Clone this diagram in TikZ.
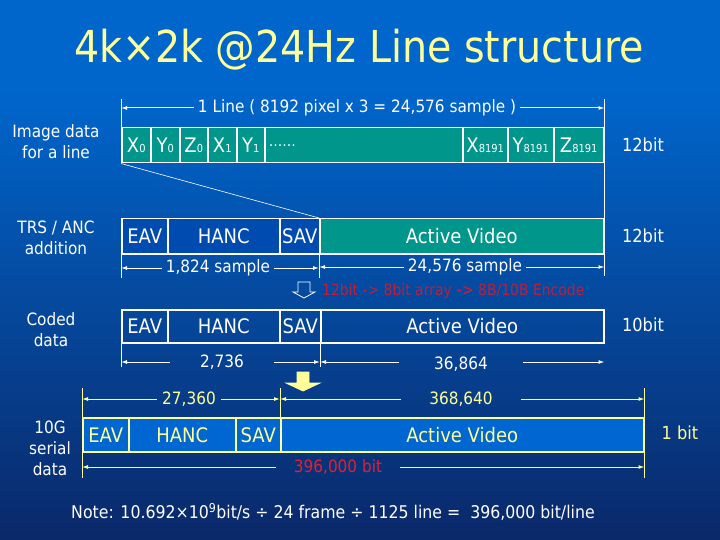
\documentclass[tikz,border=0pt]{standalone}
\usepackage{fontspec}
\setmainfont{DejaVu Sans}[FakeStretch=0.9]
\usetikzlibrary{arrows.meta}

\definecolor{bgtop}{RGB}{0,102,204}
\definecolor{bgmid}{RGB}{5,72,168}
\definecolor{bgbot}{RGB}{10,40,105}
\definecolor{tealfill}{RGB}{0,150,140}
\definecolor{trsblue}{RGB}{0,75,175}
\definecolor{serblue}{RGB}{0,102,210}
\definecolor{lyellow}{RGB}{255,255,153}
\definecolor{enctxt}{RGB}{190,30,60}
\definecolor{bitred}{RGB}{230,30,50}

\newcommand{\fsz}[2]{\fontsize{#1}{#2}\selectfont}
\newcommand{\subd}[1]{{\fsz{11}{11}#1}}

\begin{document}
\begin{tikzpicture}[x=1pt,y=-1pt,
	cell/.style={draw=white, line width=1.5pt, anchor=north west, inner sep=0pt,
		minimum height=35pt, text=white, font=\fsz{20}{20}},
	sercell/.style={cell, draw=lyellow, text=lyellow, fill=serblue, minimum height=34pt},
	lbl/.style={text=white, font=\fsz{17}{21}, align=center},
	dimtxt/.style={text=white, font=\fsz{17}{17}, inner ysep=2pt, inner xsep=4pt},
	dim/.style={draw=white, line width=1pt, -{Latex[length=6pt,width=4pt]}},
	ydim/.style={dim, draw=lyellow},
	tick/.style={draw=white, line width=0.8pt},
	ytick/.style={draw=lyellow, line width=0.8pt}]

	% background
	\fill[bgtop] (0,0) rectangle (720,90);
	\shade[top color=bgtop, middle color=bgmid, bottom color=bgbot] (0,90) rectangle (720,540);

	\node[text=lyellow, font=\fsz{44}{44}] (title) at (359,50) {4k×2k @24Hz Line structure};

	% image data for a line
	\node[cell, fill=tealfill, minimum width=29pt] (x0) at (121,127) {X\subd{0}};
	\node[cell, fill=tealfill, minimum width=29pt] (y0) at (150,127) {Y\subd{0}};
	\node[cell, fill=tealfill, minimum width=28pt] (z0) at (179,127) {Z\subd{0}};
	\node[cell, fill=tealfill, minimum width=29pt] (x1) at (207,127) {X\subd{1}};
	\node[cell, fill=tealfill, minimum width=28pt] (y1) at (236,127) {Y\subd{1}};
	\node[cell, fill=tealfill, minimum width=198pt, text width=190pt, align=left,
		font=\fsz{15}{15}] (dots) at (264,127) {……};
	\node[cell, fill=tealfill, minimum width=45pt] (xn) at (462,127) {X\subd{8191}};
	\node[cell, fill=tealfill, minimum width=46pt] (yn) at (507,127) {Y\subd{8191}};
	\node[cell, fill=tealfill, minimum width=50pt] (zn) at (553,127) {Z\subd{8191}};

	\node[dimtxt] (dline) at (357,108) {1 Line ( 8192 pixel x 3 = 24,576 sample )};
	\draw[tick] ([yshift=28pt]x0.north west) -- (x0.north west);
	\draw[tick] ([yshift=28pt]zn.north east) -- ([yshift=-112pt]zn.south east);
	\draw[dim] (dline.west) -- (x0.north west |- dline.west);
	\draw[dim] (dline.east) -- (zn.north east |- dline.east);

	% TRS / ANC addition
	\node[cell, fill=trsblue, minimum width=46pt] (eav2) at (121,218) {EAV};
	\node[cell, fill=trsblue, minimum width=112pt] (hanc2) at (167,218) {HANC};
	\node[cell, fill=trsblue, minimum width=40pt] (sav2) at (279,218) {SAV};
	\node[cell, fill=tealfill, minimum width=284pt] (av2) at (319,218) {Active Video};
	\draw[white, line width=0.6pt] (x0.south west) -- (av2.north west);

	\node[dimtxt] (dtrs) at (218,268) {1,824 sample};
	\node[dimtxt] (dact) at (465,267) {24,576 sample};
	\draw[tick] (eav2.south west) -- ([yshift=-23pt]eav2.south west);
	\draw[tick] (av2.south west) -- ([yshift=-23pt]av2.south west);
	\draw[dim] (dtrs.west) -- (eav2.south west |- dtrs.west);
	\draw[dim] (dtrs.east) -- (av2.south west |- dtrs.east);
	\draw[dim] (dact.west) -- (av2.south west |- dact.west);
	\draw[dim] (dact.east) -- (av2.south east |- dact.east);

	\draw[white, line width=0.8pt] (298,282) -- (310,282) -- (310,292) -- (315,292)
		-- (304,298) -- (293,292) -- (298,292) -- cycle;
	\node[anchor=west, text=enctxt, font=\fsz{15.5}{15.5}, inner sep=0pt] (enc) at (322,291)
		{12bit -> 8bit array {\bfseries ->} 8B/10B Encode};

	% coded data
	\node[cell, minimum width=46pt, minimum height=33pt] (eav3) at (121,309) {EAV};
	\node[cell, minimum width=112pt, minimum height=33pt] (hanc3) at (167,309) {HANC};
	\node[cell, minimum width=41pt, minimum height=33pt] (sav3) at (279,309) {SAV};
	\node[cell, minimum width=283pt, minimum height=33pt] (av3) at (320,309) {Active Video};

	\node[dimtxt, inner xsep=30pt] (dtrs3) at (222,362) {2,736};
	\node[dimtxt, inner xsep=35pt] (dact3) at (461,364) {36,864};
	\draw[tick] (eav3.south west) -- ([yshift=-23pt]eav3.south west);
	\draw[tick] (av3.south west) -- ([yshift=-23pt]av3.south west);
	\draw[dim] (dtrs3.west) -- (eav3.south west |- dtrs3.west);
	\draw[dim] (dtrs3.east) -- (av3.south west |- dtrs3.east);
	\draw[dim] (dact3.west |- dtrs3.west) -- (av3.south west |- dtrs3.west);
	\draw[dim] (dact3.east |- dtrs3.east) -- (av3.south east |- dtrs3.east);

	\filldraw[fill=lyellow, draw=lyellow, line width=0.8pt] (297,372) -- (309,372) -- (309,383)
		-- (320,383) -- (303,391) -- (286,383) -- (297,383) -- cycle;

	% 10G serial data
	\node[sercell, minimum width=46pt] (eav4) at (82,417) {EAV};
	\node[sercell, minimum width=107pt] (hanc4) at (128,417) {HANC};
	\node[sercell, minimum width=45pt] (sav4) at (235,417) {SAV};
	\node[sercell, minimum width=363pt] (av4) at (280,417) {Active Video};

	\node[dimtxt, text=lyellow, inner xsep=5pt] (dtrs4) at (189,399) {27,360};
	\node[dimtxt, text=lyellow, inner xsep=28pt] (dact4) at (461,399) {368,640};
	\node[dimtxt, text=bitred, inner xsep=18pt] (dall4) at (338,467) {396,000 bit};
	\draw[ytick] ([yshift=29pt]eav4.north west) -- ([yshift=-25pt]eav4.south west);
	\draw[ytick] ([yshift=29pt]av4.north west) -- (av4.north west);
	\draw[ytick] ([yshift=29pt]av4.north east) -- ([yshift=-25pt]av4.south east);
	\draw[ydim] (dtrs4.west) -- (eav4.north west |- dtrs4.west);
	\draw[ydim] (dtrs4.east) -- (av4.north west |- dtrs4.east);
	\draw[ydim] (dact4.west) -- (av4.north west |- dact4.west);
	\draw[ydim] (dact4.east) -- (av4.north east |- dact4.east);
	\draw[ydim] (dall4.west) -- (eav4.south west |- dall4.west);
	\draw[ydim] (dall4.east) -- (av4.south east |- dall4.east);

	% row labels
	\node[lbl] (limg) at (56,142) {Image data\\for a line};
	\node[lbl] (ltrs) at (56,238) {TRS / ANC\\addition};
	\node[lbl] (lcod) at (51,330) {Coded\\data};
	\node[lbl] (lser) at (50,448) {10G\\serial\\data};
	\node[lbl, font=\fsz{18}{18}] (bimg) at (643,145) {12bit};
	\node[lbl, font=\fsz{18}{18}] (btrs) at (643,236) {12bit};
	\node[lbl, font=\fsz{18}{18}] (bcod) at (643,325) {10bit};
	\node[lbl, font=\fsz{18}{18}, text=lyellow] (bser) at (680,433) {1 bit};

	\node[lbl, font=\fsz{17.5}{17.5}] (note) at (333,512) {Note: 10.692×10\textsuperscript{9}bit/s ÷ 24 frame ÷ 1125 line = \ 396,000 bit/line};
\end{tikzpicture}
\end{document}
